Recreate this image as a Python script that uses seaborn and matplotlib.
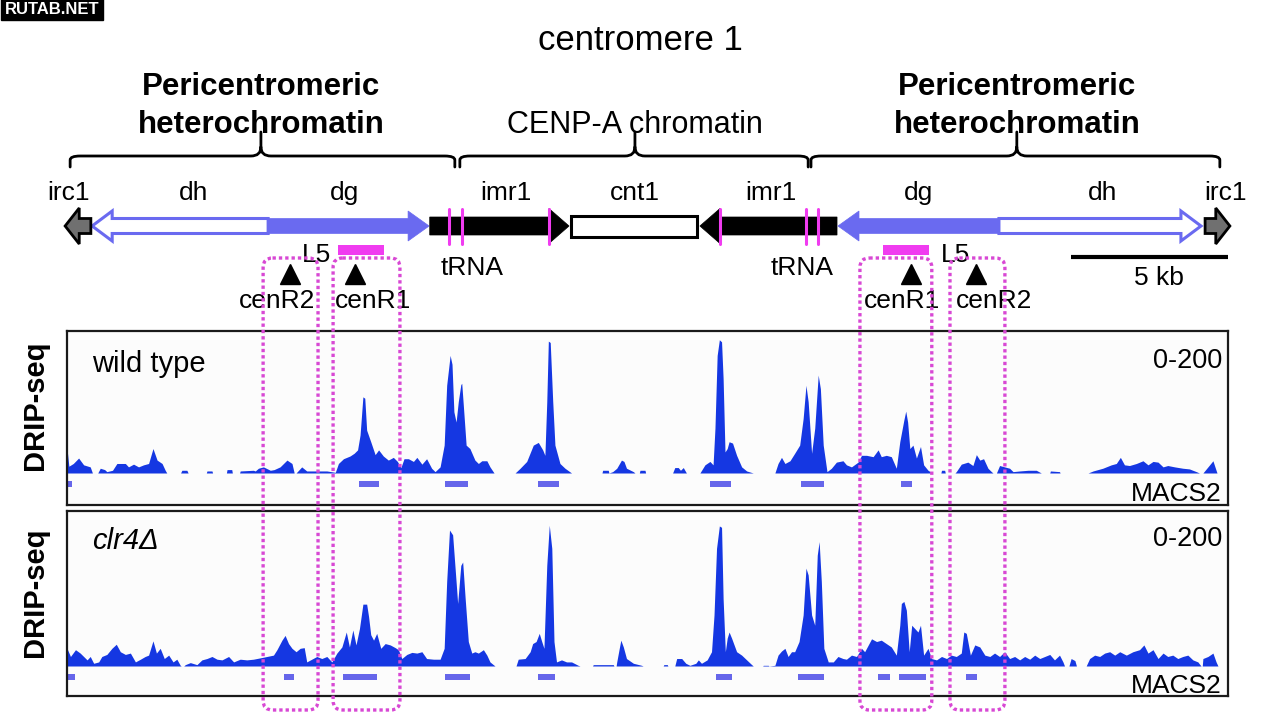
import matplotlib
matplotlib.use("Agg")
import numpy as np
import pandas as pd
import matplotlib.pyplot as plt
import seaborn as sns
from matplotlib.patches import Polygon, Rectangle, FancyBboxPatch, PathPatch
from matplotlib.path import Path

# ---- genome annotation (kb from left end of the tracks) ----
feat_name = ["irc1", "dh", "dg", "imr1", "cnt1", "imr1", "dg", "dh", "irc1"]
feat_start = [-0.06, 0.80, 6.41, 11.56, 16.06, 20.17, 24.57, 29.70, 36.27]
feat_end = [0.76, 6.41, 11.54, 16.00, 20.08, 24.54, 29.70, 36.14, 37.06]
feat_strand = [-1, -1, 1, 1, 0, -1, -1, 1, 1]
feat_kind = ["irc", "hollow", "filled", "imr", "cnt", "imr", "filled", "hollow", "irc"]
feat_label_x = [0.05, 4.02, 8.83, 14.00, 18.10, 22.44, 27.15, 33.00, 36.93]

trna_pos = [12.17, 12.59, 15.36, 20.81, 23.55, 23.93]
trna_label_x = [12.90, 23.42]

brace_start = [0.10, 12.52, 23.71]
brace_end = [12.36, 23.62, 36.74]
brace_tip = [6.18, 18.10, 30.27]

l5_start = [8.63, 26.00]
l5_end = [10.10, 27.47]
l5_label_x = [7.94, 28.33]

cen_names = ["cenR2", "cenR1", "cenR1", "cenR2"]
cen_pos = [7.11, 9.18, 26.90, 28.97]
cen_label_x = [6.69, 9.75, 26.61, 29.54]
box_start = [6.25, 8.48, 25.27, 28.14]
box_end = [8.00, 10.61, 27.56, 29.89]

scale_start = 32.0
scale_len = 5.0

# ---- DRIP-seq signal (0-200), wild type ----
wt_kb = [0.00, 0.06, 0.20, 0.37, 0.53, 0.74, 0.81,
         0.98, 1.06, 1.20, 1.27, 1.45, 1.59, 1.86, 1.96, 2.12, 2.28, 2.44, 2.60, 2.74, 2.87, 3.03, 3.13, 3.18,
         3.62, 3.66, 3.82, 3.86, 4.44, 4.46, 4.62, 4.64, 5.08, 5.10, 5.25, 5.27,
         5.50, 5.52, 5.94, 6.00, 6.10, 6.26, 6.48, 6.60, 6.79, 6.90, 7.01, 7.17, 7.24,
         7.30, 7.38, 7.48, 7.64, 8.00, 8.28, 8.55,
         8.65, 8.81, 9.02, 9.15, 9.26, 9.34, 9.43, 9.49, 9.55, 9.68, 9.82, 9.93, 10.08, 10.24, 10.40,
         10.53, 10.64, 10.74, 10.88, 11.04, 11.15, 11.31, 11.46, 11.62, 11.73, 11.89, 12.02, 12.10,
         12.21, 12.27, 12.33, 12.40, 12.47, 12.55, 12.58, 12.63, 12.72, 12.84, 13.00, 13.11, 13.22,
         13.38, 13.48, 13.61,
         14.28, 14.44, 14.65, 14.86, 15.02, 15.16, 15.23, 15.29, 15.34, 15.40, 15.48, 15.55, 15.71,
         15.87, 16.08,
         17.05, 17.07, 17.25, 17.27, 17.39, 17.52, 17.67, 17.75, 17.83, 18.05, 18.10,
         18.24, 18.26, 18.42, 18.44, 19.30, 19.37, 19.48, 19.55, 19.64, 19.74,
         20.17, 20.33, 20.49, 20.59, 20.65, 20.72, 20.79, 20.86, 20.91, 20.97, 21.04, 21.10, 21.21,
         21.34, 21.50, 21.66, 21.87,
         22.56, 22.66, 22.77, 22.88, 23.04, 23.19, 23.35, 23.46, 23.55, 23.62, 23.73, 23.83, 23.94,
         24.01, 24.10, 24.22, 24.36, 24.52, 24.73, 24.84, 25.00, 25.21, 25.32, 25.48, 25.69, 25.85,
         25.95, 26.11, 26.27, 26.43, 26.54, 26.67, 26.73, 26.79, 26.86, 26.96, 27.07, 27.20, 27.30,
         27.44, 27.58, 27.85, 27.87, 27.97, 27.99,
         28.30, 28.34, 28.50, 28.71, 28.87, 28.98, 29.09, 29.21, 29.35, 29.46, 29.51,
         29.62, 29.72, 29.88, 30.04, 30.15, 30.36, 30.63, 30.89, 31.05,
         31.32, 31.34, 31.63, 31.65,
         32.54, 32.70, 33.01, 33.28, 33.44, 33.57, 33.70, 33.86, 34.08, 34.29, 34.45, 34.61, 34.77,
         34.93, 35.08, 35.30, 35.56, 35.77, 35.99, 36.09,
         36.20, 36.36, 36.52, 36.62, 36.65]
wt_val = [36, 10, 14, 22, 12, 9, 0,
          0, 7, 5, 2, 4, 14, 14, 9, 13, 9, 12, 14, 36, 19, 14, 4, 0,
          0, 4, 4, 0, 0, 3, 3, 0, 0, 5, 5, 0,
          0, 3, 4, 3, 7, 9, 4, 5, 9, 14, 19, 14, 0,
          0, 4, 9, 3, 3, 3, 1,
          14, 21, 25, 29, 34, 56, 112, 110, 63, 46, 27, 34, 25, 19, 23,
          17, 8, 21, 21, 17, 23, 13, 21, 7, 2, 9, 41, 129,
          173, 160, 90, 75, 105, 130, 132, 100, 41, 36, 19, 14, 18,
          18, 9, 0,
          0, 7, 17, 41, 45, 34, 26, 105, 194, 192, 105, 41, 14,
          7, 0,
          0, 4, 4, 0, 2, 7, 19, 17, 7, 2, 0,
          0, 4, 4, 0, 0, 8, 8, 4, 8, 0,
          0, 12, 17, 12, 66, 173, 196, 193, 139, 31, 36, 46, 44,
          26, 9, 3, 0,
          0, 14, 23, 14, 18, 29, 41, 80, 129, 105, 29, 66, 144,
          124, 41, 2, 7, 16, 18, 12, 9, 16, 26, 26, 24, 34,
          24, 26, 24, 7, 46, 78, 91, 75, 36, 41, 22, 39, 12,
          4, 0, 0, 4, 4, 0,
          0, 2, 13, 16, 11, 27, 19, 21, 7, 2, 0,
          0, 11, 9, 7, 2, 3, 4, 4, 0,
          0, 3, 2, 0,
          0, 3, 7, 12, 14, 23, 12, 11, 14, 18, 12, 17, 16,
          9, 11, 9, 7, 6, 2, 0,
          0, 9, 18, 4, 0]

# ---- DRIP-seq signal (0-200), clr4 deletion ----
clr4_kb = [0.00, 0.11, 0.27, 0.42, 0.53, 0.64, 0.74, 0.85, 1.01, 1.11, 1.27, 1.43, 1.57, 1.70, 1.86,
           2.02, 2.18, 2.34, 2.49, 2.60, 2.74, 2.85, 2.97, 3.10, 3.24, 3.38, 3.50, 3.61, 3.64,
           3.72, 3.77, 3.93, 4.14, 4.30, 4.46, 4.62, 4.78, 4.94, 5.15, 5.31, 5.52, 5.73, 5.94,
           6.16, 6.37, 6.58, 6.69, 6.85, 6.95, 7.06, 7.17, 7.30, 7.43, 7.56, 7.64, 7.80, 7.96,
           8.12, 8.28, 8.44, 8.60, 8.76, 8.90, 9.00, 9.11, 9.21, 9.32, 9.43, 9.55, 9.61, 9.68,
           9.77, 9.87, 10.00, 10.14, 10.30, 10.46, 10.56, 10.67, 10.83, 10.99, 11.15, 11.31,
           11.46, 11.68, 11.89, 12.02, 12.10, 12.19, 12.29, 12.40, 12.45, 12.55, 12.61, 12.69,
           12.79, 12.90, 13.00, 13.11, 13.27, 13.38, 13.48, 13.64,
           14.31, 14.38, 14.60, 14.76, 14.84, 14.95, 15.05, 15.13, 15.20, 15.29, 15.37, 15.45,
           15.52, 15.60, 15.76, 15.92, 16.08, 16.29, 16.35,
           16.75, 16.77, 17.41, 17.43,
           17.50, 17.52, 17.60, 17.65, 17.73, 17.83, 18.05, 18.31, 18.36,
           19.00, 19.02, 19.13, 19.15,
           19.37, 19.43, 19.59, 19.72, 19.85, 20.04, 20.12, 20.22, 20.40, 20.54, 20.62, 20.70,
           20.79, 20.86, 20.91, 20.98, 21.04, 21.10, 21.18, 21.34, 21.50, 21.66, 21.82, 21.87,
           22.17, 22.19, 22.35, 22.37,
           22.56, 22.66, 22.77, 22.88, 22.98, 23.09, 23.19, 23.33, 23.46, 23.55, 23.62, 23.73,
           23.83, 23.91, 23.97, 24.04, 24.12, 24.26, 24.42, 24.57, 24.73, 24.84, 25.00, 25.16,
           25.32, 25.42, 25.64, 25.80, 25.95, 26.11, 26.27, 26.43, 26.54, 26.59, 26.67, 26.75,
           26.84, 26.92, 27.02, 27.12, 27.20, 27.30, 27.44, 27.55, 27.71, 27.87, 28.03, 28.18,
           28.34, 28.50, 28.58, 28.66, 28.79, 28.93, 29.09, 29.25, 29.41, 29.56, 29.72, 29.88,
           30.04, 30.20, 30.36, 30.52, 30.68, 30.84, 31.00, 31.16, 31.32, 31.47, 31.63, 31.74,
           31.79,
           31.93, 32.00, 32.12, 32.17,
           32.48, 32.59, 32.75, 32.91, 33.07, 33.23, 33.39, 33.55, 33.76, 33.97, 34.18, 34.32,
           34.45, 34.61, 34.77, 34.93, 35.08, 35.24, 35.40, 35.56, 35.72, 35.88, 36.04, 36.14,
           36.18, 36.20, 36.36, 36.52, 36.62, 36.68]
clr4_val = [26, 14, 24, 19, 14, 9, 14, 4, 6, 14, 17, 26, 32, 21, 17,
            19, 6, 10, 14, 16, 37, 19, 26, 11, 16, 6, 10, 1, 0,
            0, 2, 5, 2, 9, 11, 14, 10, 9, 14, 6, 10, 9, 10,
            12, 14, 16, 24, 38, 45, 33, 26, 21, 26, 27, 6, 10, 14,
            11, 14, 6, 19, 28, 50, 28, 53, 31, 55, 91, 91, 73, 46,
            38, 48, 26, 33, 31, 27, 24, 11, 17, 20, 19, 21,
            11, 10, 10, 26, 124, 200, 193, 124, 92, 148, 153, 99,
            36, 19, 21, 19, 24, 16, 6, 0,
            0, 10, 11, 21, 33, 36, 48, 36, 26, 148, 207, 173,
            36, 6, 9, 6, 6, 1, 0,
            0, 2, 2, 0,
            0, 6, 26, 38, 28, 11, 4, 1, 0,
            0, 2, 2, 0,
            0, 11, 11, 4, 1, 4, 9, 4, 9, 21, 75, 173,
            206, 204, 99, 21, 41, 50, 41, 21, 16, 9, 2, 0,
            0, 1, 1, 0,
            1, 16, 22, 26, 14, 21, 21, 36, 75, 144, 134, 75,
            60, 163, 183, 124, 26, 6, 6, 14, 11, 10, 16, 14,
            26, 21, 40, 36, 38, 33, 28, 16, 60, 92, 95, 82,
            21, 60, 55, 50, 60, 16, 26, 11, 9, 14, 11, 16,
            14, 19, 50, 48, 16, 31, 28, 16, 14, 19, 14, 21,
            11, 14, 9, 14, 10, 16, 11, 14, 17, 9, 16, 6,
            0,
            0, 11, 8, 0,
            0, 11, 16, 14, 19, 21, 16, 21, 16, 21, 24, 31,
            19, 24, 11, 19, 14, 16, 11, 14, 16, 9, 6, 0,
            0, 11, 14, 19, 6, 0]

# ---- MACS2 peak calls ----
wt_peak_start = [0.00, 9.31, 12.05, 15.00, 20.49, 23.38, 26.57]
wt_peak_end = [0.16, 9.95, 12.79, 15.68, 21.16, 24.12, 26.93]
clr4_peak_start = [0.00, 6.90, 8.79, 12.05, 15.02, 20.68, 23.30, 25.85, 26.52, 28.66]
clr4_peak_end = [0.27, 7.24, 9.89, 12.84, 15.55, 21.18, 24.12, 26.22, 27.37, 29.01]

# ---- layout (pixels) ----
FIG_W, FIG_H = 1280, 718
TRACK_LEFT, TRACK_RIGHT = 67, 1228
SPAN_KB = 37.0
PX_PER_KB = (TRACK_RIGHT - TRACK_LEFT) / SPAN_KB
UNITS_PER_PX = 1.471
ROW_Y = 226

SIGNAL_BLUE = "#1537e2"
MACS_BLUE = "#6666ea"
REPEAT_BLUE = "#6a6af0"
MAGENTA = "#f03cf0"
DOT_MAGENTA = "#d848d4"
FONT = ["Liberation Sans", "DejaVu Sans"]

sns.set_theme(style="white")
plt.rcParams["font.family"] = FONT
plt.rcParams["text.color"] = "black"

fig = plt.figure(figsize=(FIG_W / 100, FIG_H / 100), dpi=100)
fig.patch.set_facecolor("white")


def add_track(top, bottom, baseline, kb, val, p_start, p_end):
    ax = fig.add_axes([TRACK_LEFT / FIG_W, 1 - bottom / FIG_H,
                       (TRACK_RIGHT - TRACK_LEFT) / FIG_W, (bottom - top) / FIG_H])
    ax.set_xlim(0, SPAN_KB)
    ax.set_ylim(-(bottom - baseline) * UNITS_PER_PX, (baseline - top) * UNITS_PER_PX)
    ax.set_facecolor("#fcfcfc")
    df = pd.DataFrame({"kb": kb, "signal": val})
    ax.fill_between(df["kb"], 0, df["signal"], color=SIGNAL_BLUE, lw=0)
    peaks = pd.DataFrame({"start": p_start, "end": p_end})
    ax.bar(peaks["start"], 8.8, width=peaks["end"] - peaks["start"],
           bottom=-20.4, align="edge", color=MACS_BLUE, lw=0)
    ax.set_xticks([])
    ax.set_yticks([])
    for s in ax.spines.values():
        s.set_color("#1a1a1a")
        s.set_linewidth(1.6)
    return ax


add_track(331, 505, 473, wt_kb, wt_val, wt_peak_start, wt_peak_end)
add_track(511, 696, 666, clr4_kb, clr4_val, clr4_peak_start, clr4_peak_end)

# overlay: x in kb, y in pixels from the top
ov = fig.add_axes([0, 0, 1, 1], zorder=10)
ov.patch.set_alpha(0)
ov.set_xlim(-TRACK_LEFT / PX_PER_KB, (FIG_W - TRACK_LEFT) / PX_PER_KB)
ov.set_ylim(FIG_H, 0)
ov.axis("off")


def arrow_points(start, end, strand, shaft, head, head_len):
    y0, y1 = ROW_Y - shaft, ROW_Y + shaft
    if strand > 0:
        b = end - head_len
        return [(start, y0), (b, y0), (b, ROW_Y - head), (end, ROW_Y),
                (b, ROW_Y + head), (b, y1), (start, y1)]
    b = start + head_len
    return [(end, y0), (b, y0), (b, ROW_Y - head), (start, ROW_Y),
            (b, ROW_Y + head), (b, y1), (end, y1)]


for name, s, e, st, kind in zip(feat_name, feat_start, feat_end, feat_strand, feat_kind):
    if kind == "hollow":
        pts = arrow_points(s, e, st, 7.5, 15, 0.64)
        ov.add_patch(Polygon(pts, closed=True, fc="white", ec=REPEAT_BLUE, lw=2.2, zorder=2))
    elif kind == "filled":
        pts = arrow_points(s, e, st, 7.5, 15, 0.67)
        ov.add_patch(Polygon(pts, closed=True, fc=REPEAT_BLUE, ec=REPEAT_BLUE, lw=0.5, zorder=3))
    elif kind == "imr":
        pts = arrow_points(s, e, st, 9, 17.5, 0.64)
        ov.add_patch(Polygon(pts, closed=True, fc="black", ec="black", lw=0.5, zorder=3))
    elif kind == "irc":
        pts = arrow_points(s, e, st, 7.5, 18, 0.45)
        ov.add_patch(Polygon(pts, closed=True, fc="#707070", ec="black", lw=2, zorder=3))
    else:
        ov.add_patch(Rectangle((s, ROW_Y - 10.5), e - s, 21, fc="white", ec="black", lw=2.2, zorder=3))

for x in trna_pos:
    ov.plot([x, x], [ROW_Y - 17.5, ROW_Y + 17.5], color=MAGENTA, lw=2.2, zorder=4)

for name, lx in zip(feat_name, feat_label_x):
    ov.text(lx, 200, name, ha="center", va="baseline", fontsize=19)
for lx in trna_label_x:
    ov.text(lx, 275, "tRNA", ha="center", va="baseline", fontsize=19)


def draw_brace(x0, x1, xt, y_end=167, y_bar=156, y_tip=132, r=0.32):
    rise = 9
    verts = [(x0, y_end), (x0, y_bar + 4), (x0, y_bar), (x0 + r, y_bar),
             (xt - r, y_bar), (xt, y_bar), (xt, y_bar - rise), (xt, y_tip),
             (xt, y_bar - rise), (xt, y_bar), (xt + r, y_bar),
             (x1 - r, y_bar), (x1, y_bar), (x1, y_bar + 4), (x1, y_end)]
    codes = [Path.MOVETO, Path.LINETO, Path.CURVE3, Path.CURVE3,
             Path.LINETO, Path.CURVE3, Path.CURVE3, Path.LINETO,
             Path.MOVETO, Path.CURVE3, Path.CURVE3,
             Path.LINETO, Path.CURVE3, Path.CURVE3, Path.LINETO]
    ov.add_patch(PathPatch(Path(verts, codes), fc="none", ec="black", lw=2, capstyle="round"))


for s, e, t in zip(brace_start, brace_end, brace_tip):
    draw_brace(s, e, t)

for i in (0, 2):
    ov.text(brace_tip[i], 95, "Pericentromeric", ha="center", va="baseline", fontsize=22.5, fontweight="bold")
    ov.text(brace_tip[i], 133, "heterochromatin", ha="center", va="baseline", fontsize=22.5, fontweight="bold")
ov.text(brace_tip[1], 133, "CENP-A chromatin", ha="center", va="baseline", fontsize=22)
ov.text((FIG_W / 2 - TRACK_LEFT) / PX_PER_KB, 50, "centromere 1", ha="center", va="baseline", fontsize=25)

# L5 probes, cenR primers and highlighted regions
for s, e, lx in zip(l5_start, l5_end, l5_label_x):
    ov.add_patch(Rectangle((s, 245), e - s, 10, fc=MAGENTA, ec="none", zorder=3))
    ov.text(lx, 262, "L5", ha="center", va="baseline", fontsize=19)

ov.plot(cen_pos, [274] * len(cen_pos), ls="none", marker="^", ms=15, color="black")
for name, lx in zip(cen_names, cen_label_x):
    ov.text(lx, 308, name, ha="center", va="baseline", fontsize=19)

for s, e in zip(box_start, box_end):
    ov.add_patch(FancyBboxPatch((s, 258), e - s, 452, boxstyle="round,pad=0,rounding_size=0.3",
                                mutation_aspect=PX_PER_KB, fc="none", ec=DOT_MAGENTA,
                                lw=2.4, ls=(0, (1, 0.9)), zorder=6))

# scale bar
ov.plot([scale_start, scale_start + scale_len], [257, 257], color="black", lw=3, solid_capstyle="butt")
ov.text(scale_start + scale_len * 0.56, 285, "5 kb", ha="center", va="baseline", fontsize=19)

# track labels
right_x = (1222 - TRACK_LEFT) / PX_PER_KB
left_x = (92 - TRACK_LEFT) / PX_PER_KB
ov.text(left_x, 372, "wild type", ha="left", va="baseline", fontsize=21)
ov.text(left_x, 549, "clr4\u0394", ha="left", va="baseline", fontsize=21, style="italic")
for yb in (368, 546):
    ov.text(right_x, yb, "0-200", ha="right", va="baseline", fontsize=19.5)
for yb in (501, 693):
    ov.text(right_x, yb, "MACS2", ha="right", va="baseline", fontsize=19)
for yc in (405, 592):
    ov.text((35 - TRACK_LEFT) / PX_PER_KB, yc, "DRIP-seq", ha="center", va="center",
            rotation=90, fontsize=21, fontweight="bold")

# site watermark
fig.text(5 / FIG_W, 1 - 9 / FIG_H, "RUTAB.NET", color="white", fontsize=12, fontweight="bold",
         ha="left", va="center", bbox=dict(boxstyle="square,pad=0.22", fc="black", ec="black"))

fig.savefig("out.png", dpi=100, facecolor="white")
